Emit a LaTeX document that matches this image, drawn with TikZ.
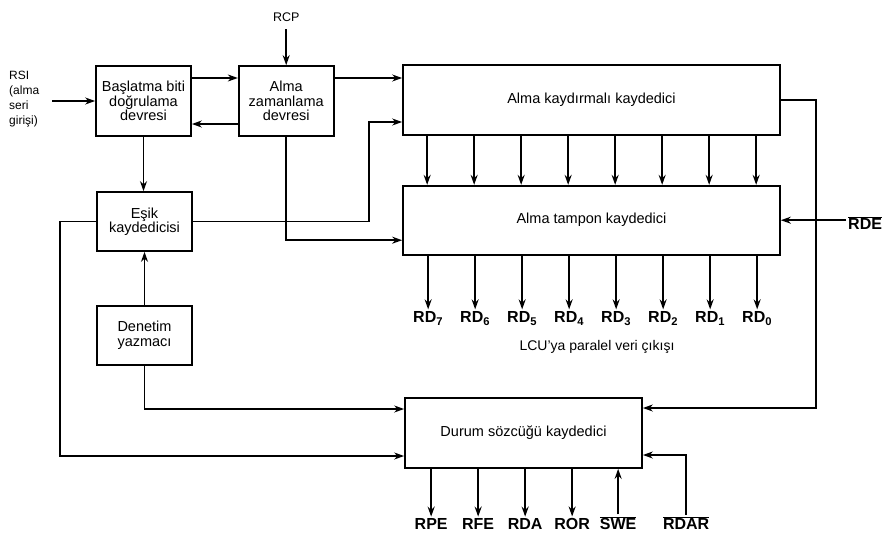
\documentclass[tikz,border=0pt]{standalone}
\usepackage{fontspec}
\setmainfont{Liberation Sans}
\usetikzlibrary{arrows.meta,positioning,calc}

\newcommand{\ovl}[1]{$\overline{\mbox{#1}}$}

\begin{document}
\begin{tikzpicture}[
 x=1pt, y=-1pt,
 box/.style={rectangle, draw, line width=1.7pt, minimum width=95pt, minimum height=70pt, inner sep=2pt, align=center, font=\fontsize{14.5}{14.5}\selectfont},
 wide/.style={box, minimum width=377pt},
 arrow/.style={->, >={Stealth[length=10pt,width=7pt]}, line width=1.6pt},
 sig/.style={font=\fontsize{16}{16}\selectfont\bfseries, inner sep=2pt, anchor=base},
 small/.style={font=\fontsize{12}{15}\selectfont, align=left, inner sep=1pt}
]
\useasboundingbox (0,0) rectangle (888,533);

% Receiver blocks
\node[box] (bas) at (143.5,101) {Başlatma biti\\doğrulama\\devresi};
\node[box, right=46pt of bas] (zam) {Alma\\zamanlama\\devresi};
\node[wide] (kay) at (591.5,100) {Alma kaydırmalı kaydedici};
\node[wide, minimum height=69pt, below=49pt of kay] (tam) {Alma tampon kaydedici};
\node[box, minimum height=59pt] (esik) at (144.5,221.5) {Eşik\\kaydedicisi};
\node[box, minimum height=59pt, below=53pt of esik] (den) {Denetim\\yazmacı};
\node[box, minimum width=237pt] (dur) at (523.5,433) {Durum sözcüğü kaydedici};

% Inputs
\node[small, anchor=west] (rsi) at (8,99) {RSI\\(alma\\seri\\girişi)};
\node[font=\fontsize{12.5}{12.5}\selectfont, inner ysep=7pt, above=36pt of zam] (rcp) {RCP};
\node[sig, anchor=west] (rde) at (846,223) {\ovl{RDE}};

% Arrows - top
\draw[arrow, shorten <=12pt] (rsi.east |- bas.west) -- (bas.west);
\draw[arrow] (rcp) -- (zam);
\draw[arrow] ([yshift=23]bas.east) -- ([yshift=23]zam.west);
\draw[arrow] ([yshift=-23]zam.west) -- ([yshift=-23]bas.east);
\draw[arrow] ([yshift=23]zam.east) -- ([yshift=23]zam.east -| kay.west);
\draw[arrow] (bas.south) -- (bas.south |- esik.north);
\draw[arrow] (den.north) -- (den.north |- esik.south);
\draw[arrow] (esik.east) -- ++(176,0) |- ([yshift=-22]kay.west);
\draw[arrow] (zam.south) |- ([yshift=-20]tam.west);
\draw[arrow] (rde.west |- tam.east) -- (tam.east);

% Parallel data
\foreach \i in {0,...,7}{
  \pgfmathtruncatemacro{\b}{7-\i}
  \draw[arrow] ([xshift=25+47*\i]kay.south west) -- ([xshift=25+47*\i]kay.south west |- tam.north);
  \node[sig] (rd\b) at ([xshift=26+47*\i, yshift=-67]tam.south west) {RD\textsubscript{\b}};
  \draw[arrow] ([xshift=26+47*\i]tam.south west) -- (rd\b.north);
}
\node[font=\fontsize{14}{14}\selectfont] (lcu) at (597,347) {LCU'ya paralel veri çıkışı};

% Status word
\draw[arrow] (kay.east) -- ++(35,0) |- ([yshift=25]dur.east);
\draw[arrow] (den.south) |- ([yshift=24]dur.west);
\draw[arrow] (esik.west) -- ++(-36,0) |- ([yshift=-23]dur.west);

\foreach \lab [count=\i from 0] in {RPE,RFE,RDA,ROR}{
  \node[sig] (\lab) at ([xshift=27+47*\i, yshift=-61]dur.south west) {\lab};
  \draw[arrow] ([xshift=27+47*\i]dur.south west) -- (\lab.north);
}
\node[sig] (swe) at ([xshift=214, yshift=-61]dur.south west) {\ovl{SWE}};
\node[sig] (rdar) at ([xshift=282, yshift=-61]dur.south west) {\ovl{RDAR}};
\draw[arrow] (swe.north) -- (swe.north |- dur.south);
\draw[arrow] (rdar.north) |- ([yshift=-22]dur.east);

\end{tikzpicture}
\end{document}
